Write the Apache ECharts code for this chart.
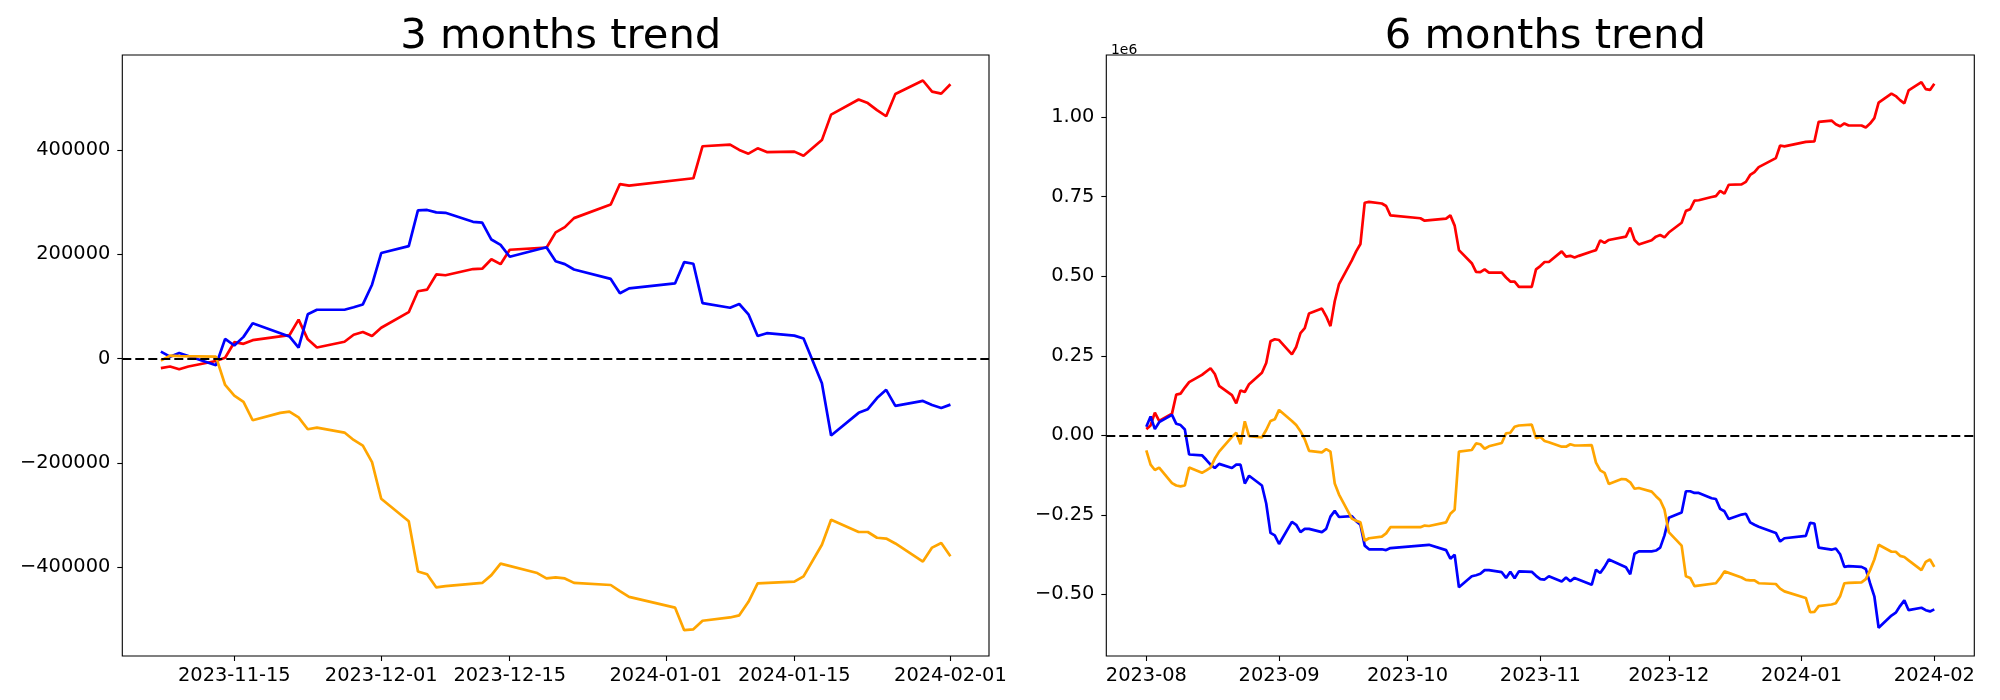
<!DOCTYPE html>
<html>
<head>
<meta charset="utf-8">
<script src="https://cdn.jsdelivr.net/npm/echarts@6/dist/echarts.min.js"></script>
<style>
html,body{margin:0;padding:0;background:#fff;}
#chart{width:2000px;height:700px;}
</style>
</head>
<body>
<div id="chart"></div>
<script>
// ---------- 3 months trend ----------
const dates3 = ['2023-11-07','2023-11-08','2023-11-09','2023-11-10','2023-11-13','2023-11-14','2023-11-15','2023-11-16','2023-11-17','2023-11-20','2023-11-21','2023-11-22','2023-11-23','2023-11-24','2023-11-27','2023-11-28','2023-11-29','2023-11-30','2023-12-01','2023-12-04','2023-12-05','2023-12-06','2023-12-07','2023-12-08','2023-12-11','2023-12-12','2023-12-13','2023-12-14','2023-12-15','2023-12-18','2023-12-19','2023-12-20','2023-12-21','2023-12-22','2023-12-26','2023-12-27','2023-12-28','2024-01-02','2024-01-03','2024-01-04','2024-01-05','2024-01-08','2024-01-09','2024-01-10','2024-01-11','2024-01-12','2024-01-15','2024-01-16','2024-01-18','2024-01-19','2024-01-22','2024-01-23','2024-01-24','2024-01-25','2024-01-26','2024-01-29','2024-01-30','2024-01-31','2024-02-01'];
const red3 = [-18100,-15000,-20500,-15000,-4500,1600,31500,28300,35400,null,44900,74800,37000,21300,32300,45700,51200,43300,59100,89000,129100,132300,161400,159800,171700,172400,190600,181100,208700,null,212600,242000,252000,269300,295300,334600,331500,null,null,345700,407100,410200,400000,392900,403100,396000,396800,389000,418900,467700,496800,489800,476400,464600,507100,533100,511800,507900,526000];
const blue3 = [13400,3800,10900,null,-12800,37800,25200,41700,67700,null,42500,21300,85000,93700,93700,98400,103900,141700,202400,215700,284300,285000,280300,279500,262200,260600,228300,218100,195300,null,213400,186600,181100,170900,152800,125200,134600,144100,185000,181900,106300,97600,104700,85000,43300,48800,44100,38600,-47200,-147200,-103900,-96900,-75600,-59800,-90600,-81100,-89000,-94500,-88200];
const orange3 = [-3900,5800,4700,null,4000,-50500,-70900,-82700,-118100,-103900,-101600,-112600,-135400,-132300,-141700,-155900,-166900,-198400,-268500,-311800,-407900,-413400,-438600,-436200,null,-429900,-415000,-392900,null,-411000,-421300,-419300,-421300,-429900,-433900,-445700,-456700,-477200,-520500,-518900,-502400,-496100,-492100,-466100,-430700,null,-427600,-417300,-356700,-308700,-332300,-332300,-343300,-344900,-354300,-389000,-362200,-353500,-378700];
const xTicks3 = ['2023-11-15','2023-12-01','2023-12-15','2024-01-01','2024-01-15','2024-02-01'];
const yTicks3 = [-400000,-200000,0,200000,400000];

// ---------- 6 months trend ----------
const dates6 = ['2023-08-01','2023-08-02','2023-08-03','2023-08-04','2023-08-07','2023-08-08','2023-08-09','2023-08-10','2023-08-11','2023-08-14','2023-08-15','2023-08-16','2023-08-17','2023-08-18','2023-08-21','2023-08-22','2023-08-23','2023-08-24','2023-08-25','2023-08-28','2023-08-29','2023-08-30','2023-08-31',
'2023-09-01','2023-09-04','2023-09-05','2023-09-06','2023-09-07','2023-09-08','2023-09-11','2023-09-12','2023-09-13','2023-09-14','2023-09-15','2023-09-18','2023-09-19','2023-09-20','2023-09-21','2023-09-22','2023-09-25','2023-09-26','2023-09-27',
'2023-10-04','2023-10-05','2023-10-06','2023-10-10','2023-10-11','2023-10-12','2023-10-13','2023-10-16','2023-10-17','2023-10-18','2023-10-19','2023-10-20','2023-10-23','2023-10-24','2023-10-25','2023-10-26','2023-10-27','2023-10-30','2023-10-31',
'2023-11-01','2023-11-02','2023-11-03','2023-11-06','2023-11-07','2023-11-08','2023-11-09','2023-11-10','2023-11-13','2023-11-14','2023-11-15','2023-11-16','2023-11-17','2023-11-20','2023-11-21','2023-11-22','2023-11-23','2023-11-24','2023-11-27','2023-11-28','2023-11-29','2023-11-30',
'2023-12-01','2023-12-04','2023-12-05','2023-12-06','2023-12-07','2023-12-08','2023-12-11','2023-12-12','2023-12-13','2023-12-14','2023-12-15','2023-12-18','2023-12-19','2023-12-20','2023-12-21','2023-12-22','2023-12-26','2023-12-27','2023-12-28',
'2024-01-02','2024-01-03','2024-01-04','2024-01-05','2024-01-08','2024-01-09','2024-01-10','2024-01-11','2024-01-12','2024-01-15','2024-01-16','2024-01-17','2024-01-18','2024-01-19','2024-01-22','2024-01-23','2024-01-24','2024-01-25','2024-01-26','2024-01-29','2024-01-30','2024-01-31','2024-02-01'];
const red6 = [19300,31000,71000,45000,68000,128000,131000,150000,167000,190000,null,210700,192800,155500,126000,100200,141000,136000,160600,196600,227400,295500,302000,
299400,254400,277600,321300,336700,383000,398400,374000,343100,421500,475500,550000,578000,601400,731200,733700,728600,720900,691300,
682300,674600,null,681000,691300,659200,582100,541000,514000,512700,521700,511400,511400,496000,483200,483200,466500,466500,521700,
532000,544800,544800,578300,561500,564100,559000,564100,578000,582000,613000,605000,614000,null,624500,652800,614000,600000,613000,624500,629600,622000,
637400,668200,705500,710600,737600,738900,749100,751700,768400,759400,787700,789000,796700,818500,827500,843000,871200,911100,908500,
922600,null,923900,985600,989500,977900,971500,980500,974000,974000,967600,980000,997200,1046000,1074000,1066500,1053700,1043400,1084500,1110000,1088400,1085800,1105100];
const blue6 = [27000,59100,19300,41100,64300,36000,32100,18000,-60400,-63000,-77100,-92500,-102800,-90000,-102800,-92500,-92500,-151600,-127200,-158000,-214600,-307100,-314800,
-341800,-272400,-281400,-304500,-294300,-294300,-304500,-294300,-255700,-237700,-257000,-254400,-269900,-281400,-347000,-358500,-358500,-361000,-354700,
null,null,-344400,-361000,-388100,-375200,-478000,-443300,-440000,-435600,-424000,-424000,-430500,-448500,-429200,-449800,-427900,-429200,-442000,
-452300,-453600,-443300,-460000,-447200,-458700,-448500,null,-470300,-422700,-433000,-413800,-390600,null,-415000,-436900,-372600,-365000,-365000,-362400,-353400,-314800,
-259600,-242900,-176000,-176000,-181200,-181200,-197900,-200500,-231300,-239000,-263400,-249300,-246700,-273700,-281400,-287800,-307100,-334100,-323800,
-316100,-275000,-277600,-353400,-359800,-356000,-373900,-413800,-411200,-413800,-420200,-465200,-506300,-605200,-566700,-557700,-537100,-519100,-550000,-542300,-550000,-553800,-547400];
const orange6 = [-47500,-92500,-109200,-101500,-150300,-158000,-160600,-158000,-101500,-118200,-110500,-101500,-73200,-51400,-5100,7700,-28300,43700,-2600,-6400,16700,45000,50100,
79700,45000,32100,12900,-12900,-48800,-54000,-43700,-51400,-151600,-186300,-262100,-268600,-273700,-331500,-323800,-318700,-308400,-289100,
-289100,-284000,-285300,-273700,-246700,-233900,-51400,-46300,-25700,-28300,-42400,-34700,-24400,6400,7700,27000,30800,33400,-9000,
-5100,-18000,-21800,-36000,-36000,-28300,-32100,-32100,-30800,-86100,-110500,-118200,-152900,-137500,-138800,-147800,-168300,-165800,-177300,-191500,-204300,-233900,
-304500,-347000,-443300,-448500,-474200,null,null,-465200,-448500,-427900,null,-447200,-454900,-456000,-456200,-465200,-467700,-482000,-490900,
-511400,-556400,-555100,-537100,-532000,-528100,-506300,-465200,-463900,-462600,-452300,-424000,-390600,-344400,-366200,-366200,-379100,-382900,-393200,-424000,-398300,-390600,-413800];
const xTicks6 = ['2023-08-01','2023-09-01','2023-10-01','2023-11-01','2023-12-01','2024-01-01','2024-02-01'];
const yTicks6 = [-500000,-250000,0,250000,500000,750000,1000000];

// ---------- helpers ----------
const DAY = 86400000;
function ts(s){ const p = s.split('-').map(Number); return Date.UTC(p[0], p[1]-1, p[2]); }
function pairs(dates, vals){ return dates.map((d,i)=>[ts(d), vals[i]]); }
function pad(n){ return (n<10?'0':'')+n; }
function fmtDay(v){ const d=new Date(Math.round(v/DAY)*DAY); return d.getUTCFullYear()+'-'+pad(d.getUTCMonth()+1)+'-'+pad(d.getUTCDate()); }
function fmtMonth(v){ const d=new Date(Math.round(v/DAY)*DAY); return d.getUTCFullYear()+'-'+pad(d.getUTCMonth()+1); }
function minus(s){ return String(s).replace('-', '\u2212'); }

const FONT = 'DejaVu Sans';
const labelStyle = {color:'#000', fontFamily:FONT, fontSize:19.4};

function xAxisCfg(gi, min, max, ticks, fmt){
  return {
    type:'value', gridIndex:gi, min:min, max:max, scale:true,
    axisLine:{show:false, onZero:false},
    splitLine:{show:false},
    axisTick:{show:true, length:5, lineStyle:{color:'#000', width:1.1}, customValues:ticks.map(ts)},
    axisLabel:Object.assign({margin:10, formatter:fmt, customValues:ticks.map(ts), hideOverlap:false, showMinLabel:true, showMaxLabel:true}, labelStyle)
  };
}
function yAxisCfg(gi, min, max, ticks, fmt){
  return {
    type:'value', gridIndex:gi, min:min, max:max, scale:true,
    axisLine:{show:false, onZero:false},
    splitLine:{show:false},
    axisTick:{show:true, length:5, lineStyle:{color:'#000', width:1.1}, customValues:ticks},
    axisLabel:Object.assign({margin:12, formatter:fmt, customValues:ticks, hideOverlap:false}, labelStyle)
  };
}
function lineSeries(xi, data, color){
  return {type:'line', xAxisIndex:xi, yAxisIndex:xi, data:data, symbol:'none', showSymbol:false,
    connectNulls:true, lineStyle:{color:color, width:2.7}, itemStyle:{color:color}, emphasis:{disabled:true}, silent:true};
}
function zeroSeries(xi){
  return {type:'line', xAxisIndex:xi, yAxisIndex:xi, data:[], silent:true,
    markLine:{silent:true, symbol:['none','none'], label:{show:false},
      lineStyle:{color:'#000', width:2.2, type:[9,4]}, emphasis:{disabled:true},
      data:[{yAxis:0}]}};
}

const chart = echarts.init(document.getElementById('chart'), null, {renderer:'canvas'});
chart.setOption({
  animation:false,
  backgroundColor:'#fff',
  title:[
    {text:'3 months trend', left:555.7, top:11, textAlign:'center', textStyle:{fontFamily:FONT, fontSize:41.7, fontWeight:'normal', color:'#000'}},
    {text:'6 months trend', left:1540.3, top:11, textAlign:'center', textStyle:{fontFamily:FONT, fontSize:41.7, fontWeight:'normal', color:'#000'}},
    {text:'1e6', left:1106, top:38, textStyle:{fontFamily:FONT, fontSize:13.9, fontWeight:'normal', color:'#000'}}
  ],
  grid:[
    {left:122.3, top:55, width:866.7, height:601, show:true, borderColor:'#000', borderWidth:1.1, backgroundColor:'transparent', containLabel:false},
    {left:1106.3, top:55, width:868, height:601, show:true, borderColor:'#000', borderWidth:1.1, backgroundColor:'transparent', containLabel:false}
  ],
  xAxis:[
    xAxisCfg(0, ts('2023-11-07')-4.2*DAY, ts('2024-02-01')+4.2*DAY, xTicks3, fmtDay),
    xAxisCfg(1, ts('2023-08-01')-9.34*DAY, ts('2024-02-01')+9.34*DAY, xTicks6, fmtMonth)
  ],
  yAxis:[
    yAxisCfg(0, -570000, 582000, yTicks3, v=>minus(v)),
    yAxisCfg(1, -694000, 1195600, yTicks6, v=>minus((v/1e6).toFixed(2)))
  ],
  series:[
    lineSeries(0, pairs(dates3, red3), '#ff0000'),
    lineSeries(0, pairs(dates3, blue3), '#0000ff'),
    lineSeries(0, pairs(dates3, orange3), '#ffa500'),
    zeroSeries(0),
    lineSeries(1, pairs(dates6, red6), '#ff0000'),
    lineSeries(1, pairs(dates6, blue6), '#0000ff'),
    lineSeries(1, pairs(dates6, orange6), '#ffa500'),
    zeroSeries(1)
  ]
});
</script>
</body>
</html>
